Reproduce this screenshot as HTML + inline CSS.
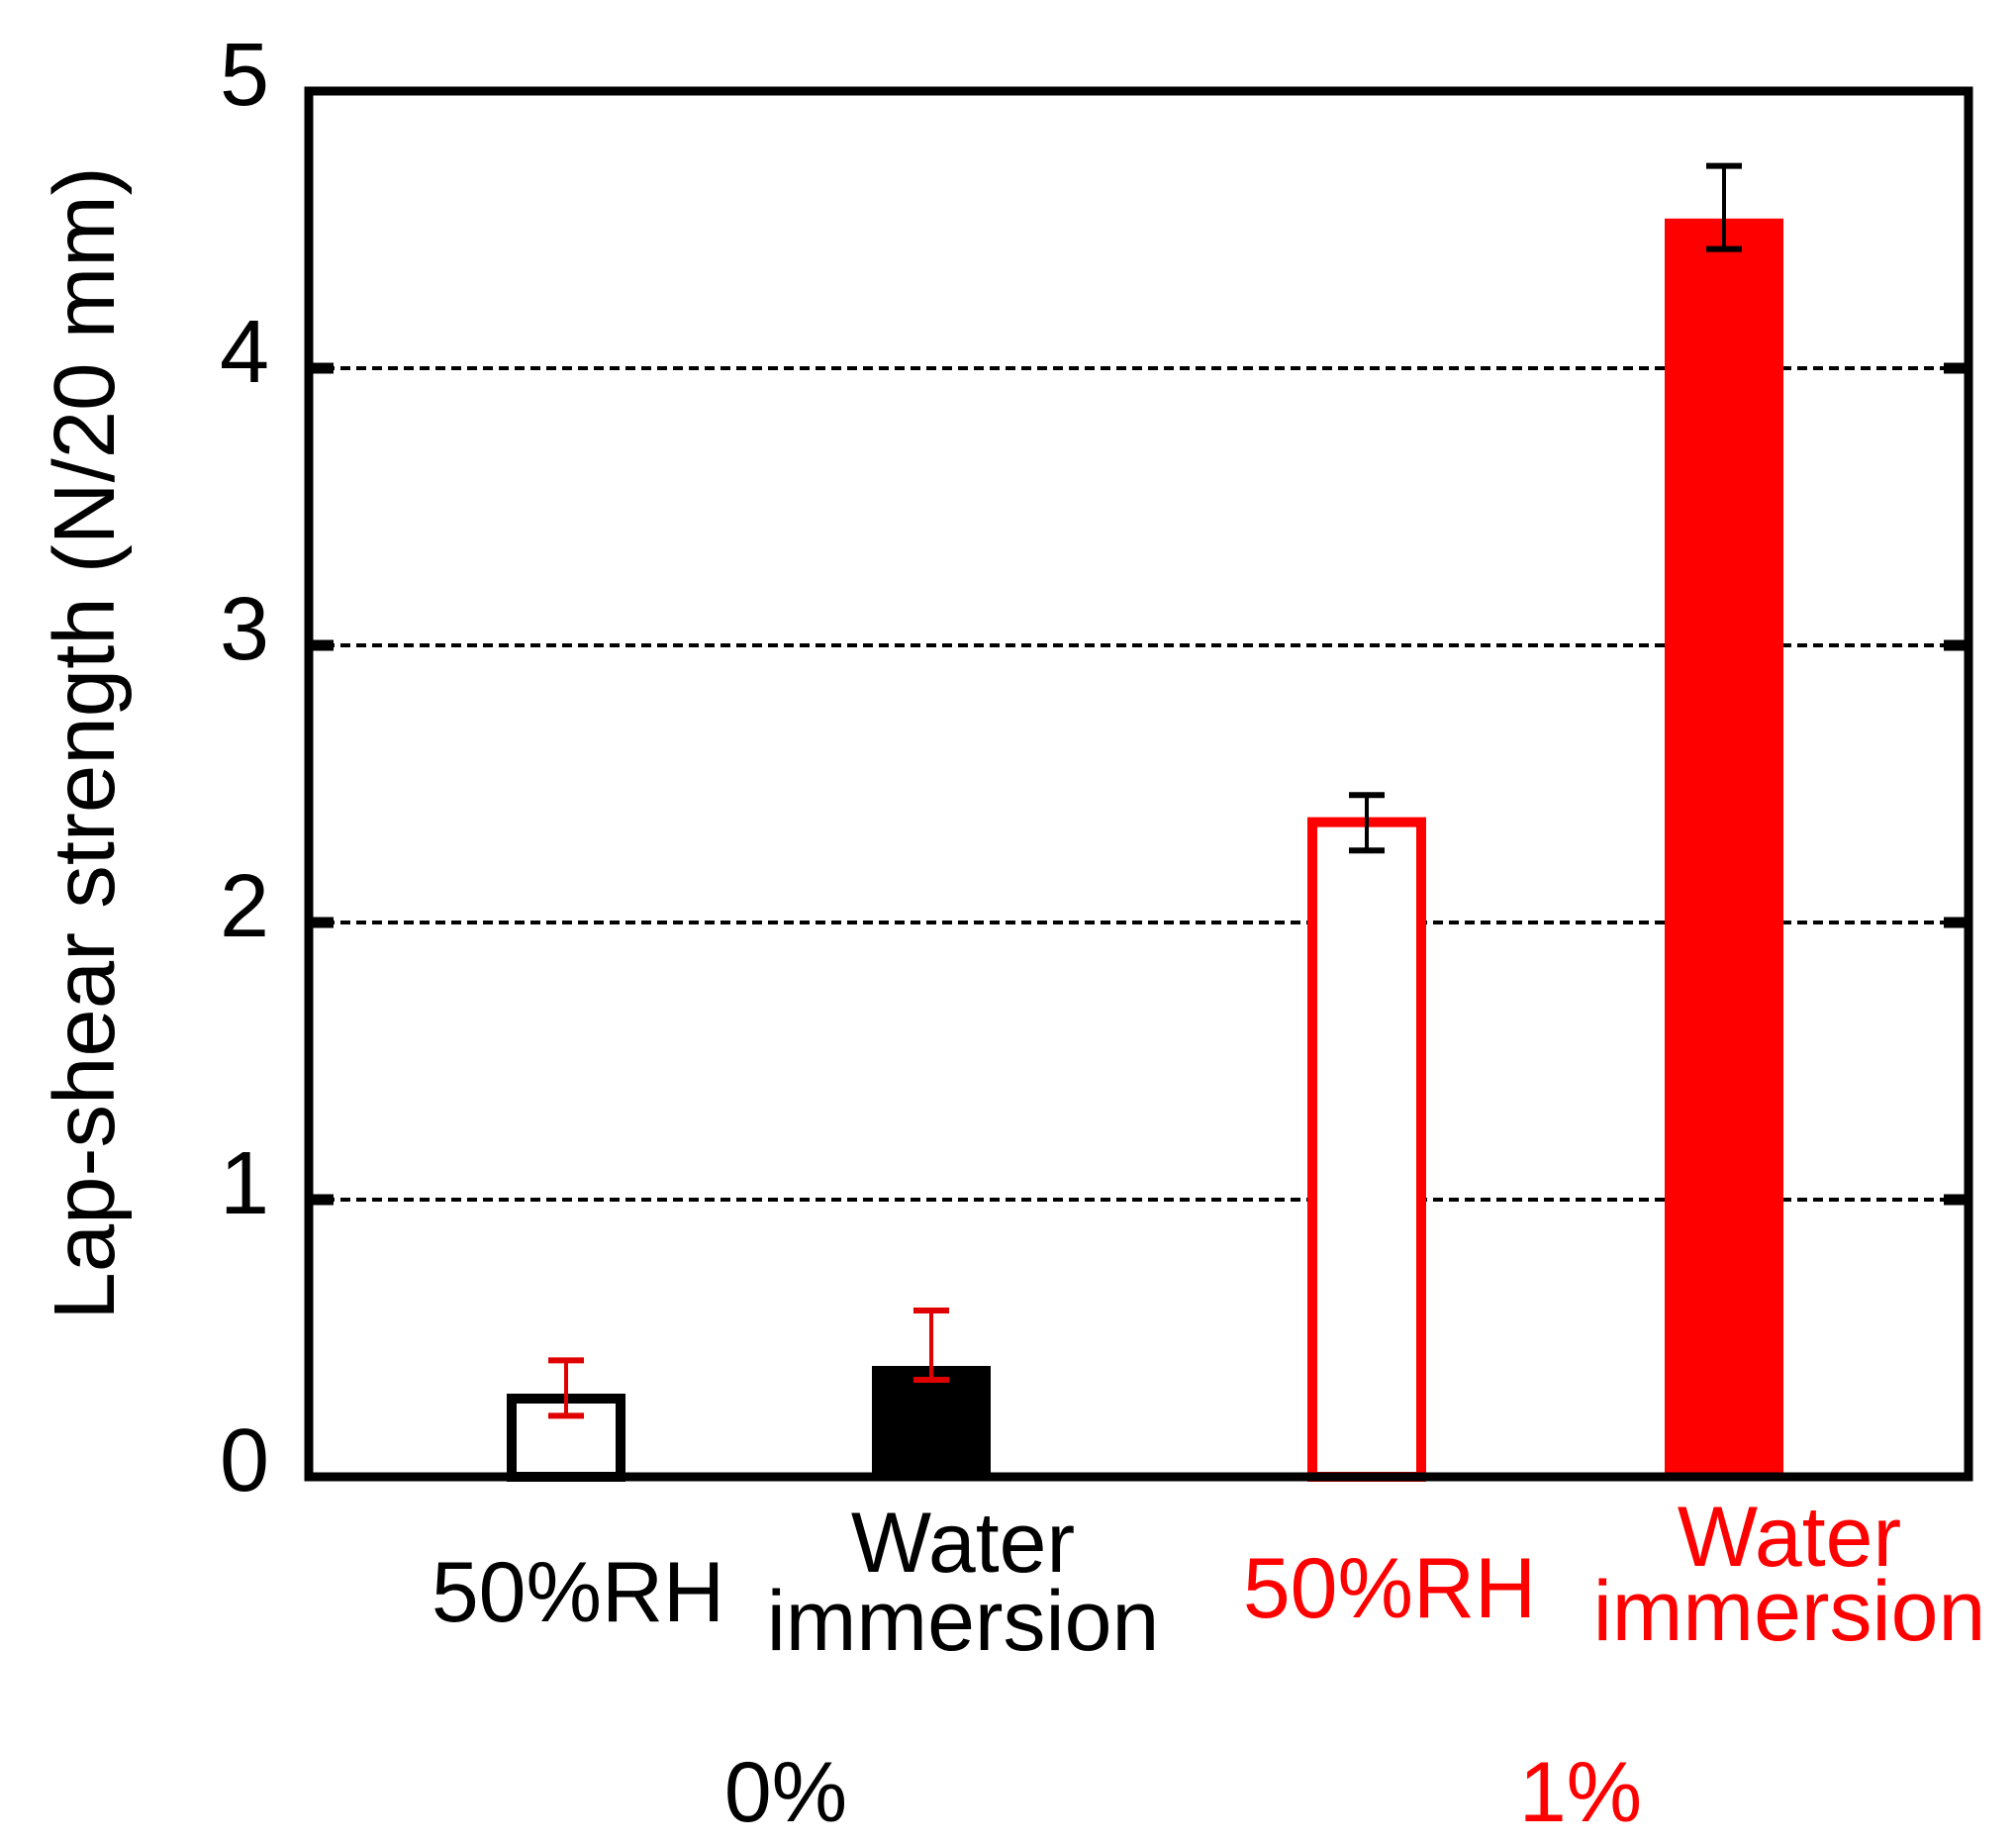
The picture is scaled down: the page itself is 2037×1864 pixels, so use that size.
<!DOCTYPE html>
<html><head><meta charset="utf-8"><style>
html,body{margin:0;padding:0;background:#fff;}
svg{display:block;font-family:"Liberation Sans",Arial,sans-serif;}
</style></head><body>
<svg id="chart" width="2037" height="1864" viewBox="0 0 2037 1864" xmlns="http://www.w3.org/2000/svg">
<g id="grid"></g>
<g id="bars"></g>
<g id="errs"></g>
<rect x="312" y="92" width="1677" height="1400" fill="none" stroke="#000" stroke-width="9"/>
<g id="ticks"></g>
<text transform="translate(115,751) rotate(-90)" text-anchor="middle" font-size="87">Lap-shear strength (N/20 mm)</text>
<g id="xl"></g>
<text x="794" y="1840" text-anchor="middle" font-size="86">0%</text>
<text x="1597" y="1840" text-anchor="middle" font-size="86" fill="#ff0000">1%</text>
</svg>
<script>
const categories = ["50%RH (0%)", "Water immersion (0%)", "50%RH (1%)", "Water immersion (1%)"];
const values = [0.30, 0.40, 2.38, 4.54];
const errLow = [0.22, 0.35, 2.26, 4.43];
const errHigh = [0.42, 0.60, 2.46, 4.73];
const yTicks = [0, 1, 2, 3, 4, 5];

const NS = "http://www.w3.org/2000/svg";
const X0 = 312, X1 = 1989, Y0 = 1492, Y5 = 92;
const centers = [572, 941, 1381, 1742];
const barW = 120;
function y(v){ return Y0 - (v / 5) * (Y0 - Y5); }
function mk(tag, attrs, parent){
  const e = document.createElementNS(NS, tag);
  for (const k in attrs) e.setAttribute(k, attrs[k]);
  parent.appendChild(e);
  return e;
}
const grid = document.getElementById('grid');
const ticks = document.getElementById('ticks');
yTicks.forEach(t => {
  const yy = y(t);
  if (t > 0 && t < 5) {
    const g = mk('line', {x1: X0, x2: X1, y1: yy, y2: yy, stroke: '#000', 'stroke-width': 4, 'stroke-dasharray': '10 6'}, grid);
    
    
    const tl = mk('line', {x1: X0, x2: X0 + 25, y1: yy, y2: yy, stroke: '#000', 'stroke-width': 11}, ticks);
    
    
    const tr = mk('line', {x1: X1 - 25, x2: X1, y1: yy, y2: yy, stroke: '#000', 'stroke-width': 11}, ticks);
    
    
  }
  const lab = mk('text', {x: 272, y: yy + 14, 'text-anchor': 'end', 'font-size': 90}, ticks);
  lab.textContent = String(t);
  
  
});
const bars = document.getElementById('bars');
const errs = document.getElementById('errs');
const styles = [
  {fill: '#fff', stroke: '#000', err: '#e00000'},
  {fill: '#000', stroke: '#000', err: '#e00000'},
  {fill: '#fff', stroke: '#ff0000', err: '#000'},
  {fill: '#ff0000', stroke: '#ff0000', err: '#000'}
];
values.forEach((v, i) => {
  const s = styles[i];
  const top = y(v);
  const outlined = s.fill === '#fff';
  const sw = outlined ? 10 : 0;
  const b = mk('rect', {x: centers[i] - barW/2 + sw/2, y: top + sw/2, width: barW - sw, height: Y0 - top - sw/2, fill: s.fill, stroke: s.stroke, 'stroke-width': sw}, bars);
  
  
  const c = centers[i];
  const eg = mk('g', {stroke: s.err, 'stroke-width': 4}, errs);
  
  
  mk('line', {x1: c, x2: c, y1: y(errHigh[i]), y2: y(errLow[i])}, eg);
  mk('line', {x1: c - 18, x2: c + 18, y1: y(errHigh[i]), y2: y(errHigh[i]), 'stroke-width': 6}, eg);
  mk('line', {x1: c - 18, x2: c + 18, y1: y(errLow[i]), y2: y(errLow[i]), 'stroke-width': 6}, eg);
});
const xl = document.getElementById('xl');
const labelDefs = [
  {lines: ['50%RH'], x: 584, ys: [1638], color: '#000'},
  {lines: ['Water', 'immersion'], x: 973, ys: [1588, 1667], color: '#000'},
  {lines: ['50%RH'], x: 1404, ys: [1634], color: '#ff0000'},
  {lines: ['Water', 'immersion'], x: 1808, ys: [1582, 1657], color: '#ff0000'}
];
labelDefs.forEach((d, i) => {
  d.lines.forEach((ln, j) => {
    const t = mk('text', {x: d.x, y: d.ys[j], 'text-anchor': 'middle', 'font-size': 86, fill: d.color}, xl);
    t.textContent = ln;
    
    
  });
});
</script>
</body></html>
